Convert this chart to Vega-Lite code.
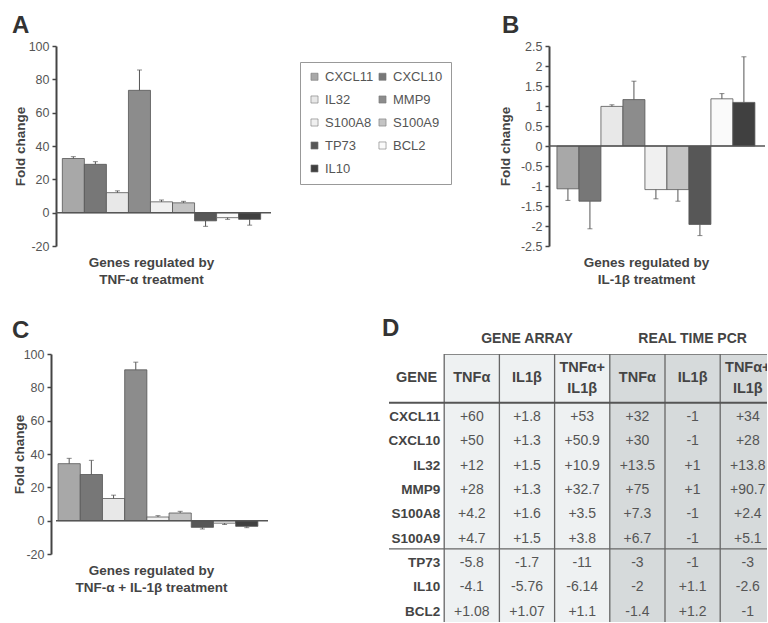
{
  "$schema": "https://vega.github.io/schema/vega-lite/v6.json",
  "padding": {"left": 12, "top": 14, "right": 0, "bottom": 0},
  "bounds": "full",
  "spacing": 31,
  "config": {
    "font": "Liberation Sans",
    "view": {"stroke": null},
    "axisX": {"labels": false, "ticks": false, "domain": false, "grid": false, "titleFontSize": 13.5, "titleFontWeight": "bold", "titleColor": "#444", "titlePadding": 9, "titleLineHeight": 17},
    "axisY": {"grid": false, "domainColor": "#444", "domainWidth": 2, "tickColor": "#444", "tickWidth": 1.5, "tickSize": 4, "labelFontSize": 12.5, "labelColor": "#555", "labelPadding": 3, "labelOverlap": false, "titleFontSize": 13.5, "titleFontWeight": "bold", "titleColor": "#444"},
    "title": {"font": "Liberation Sans", "fontSize": 24, "fontWeight": "bold", "color": "#333", "anchor": "start", "frame": "group", "baseline": "alphabetic"},
    "legend": {"orient": "none", "legendX": 244, "legendY": 16, "columns": 2, "direction": "horizontal", "symbolType": "square", "symbolSize": 50, "symbolStrokeColor": "#777", "symbolStrokeWidth": 0.6, "labelFontSize": 13, "labelFont": "Liberation Sans", "labelColor": "#555", "rowPadding": 9, "columnPadding": 2, "padding": 8, "strokeColor": "#999", "labelOffset": 4}
  },
  "datasets": {
    "barsA": [
      {"gene": "CXCL11", "value": 32.5, "err": 33.6},
      {"gene": "CXCL10", "value": 29.0, "err": 30.6},
      {"gene": "IL32", "value": 12.0, "err": 13.1},
      {"gene": "MMP9", "value": 73.4, "err": 85.6},
      {"gene": "S100A8", "value": 6.5, "err": 7.6},
      {"gene": "S100A9", "value": 5.9, "err": 6.8},
      {"gene": "TP73", "value": -4.9, "err": -8.2},
      {"gene": "BCL2", "value": -3.0, "err": -4.0},
      {"gene": "IL10", "value": -4.0, "err": -7.5}
    ],
    "barsB": [
      {"gene": "CXCL11", "value": -1.07, "err": -1.36},
      {"gene": "CXCL10", "value": -1.38, "err": -2.07},
      {"gene": "IL32", "value": 0.99, "err": 1.03},
      {"gene": "MMP9", "value": 1.16, "err": 1.62},
      {"gene": "S100A8", "value": -1.09, "err": -1.32},
      {"gene": "S100A9", "value": -1.09, "err": -1.38},
      {"gene": "TP73", "value": -1.96, "err": -2.24},
      {"gene": "BCL2", "value": 1.18, "err": 1.31},
      {"gene": "IL10", "value": 1.09, "err": 2.23}
    ],
    "barsC": [
      {"gene": "CXCL11", "value": 34.2, "err": 37.4},
      {"gene": "CXCL10", "value": 27.7, "err": 36.2},
      {"gene": "IL32", "value": 13.3, "err": 15.3},
      {"gene": "MMP9", "value": 90.5, "err": 95.1},
      {"gene": "S100A8", "value": 2.2, "err": 3.0},
      {"gene": "S100A9", "value": 4.6, "err": 5.6},
      {"gene": "TP73", "value": -4.0, "err": -5.0},
      {"gene": "BCL2", "value": -1.5, "err": -2.3},
      {"gene": "IL10", "value": -3.4, "err": -4.2}
    ],
    "zero": [{"z": 0}],
    "table": [
      {"gene": "CXCL11", "ga_tnf": "+60", "ga_il1": "+1.8", "ga_both": "+53", "pcr_tnf": "+32", "pcr_il1": "-1", "pcr_both": "+34"},
      {"gene": "CXCL10", "ga_tnf": "+50", "ga_il1": "+1.3", "ga_both": "+50.9", "pcr_tnf": "+30", "pcr_il1": "-1", "pcr_both": "+28"},
      {"gene": "IL32", "ga_tnf": "+12", "ga_il1": "+1.5", "ga_both": "+10.9", "pcr_tnf": "+13.5", "pcr_il1": "+1", "pcr_both": "+13.8"},
      {"gene": "MMP9", "ga_tnf": "+28", "ga_il1": "+1.3", "ga_both": "+32.7", "pcr_tnf": "+75", "pcr_il1": "+1", "pcr_both": "+90.7"},
      {"gene": "S100A8", "ga_tnf": "+4.2", "ga_il1": "+1.6", "ga_both": "+3.5", "pcr_tnf": "+7.3", "pcr_il1": "-1", "pcr_both": "+2.4"},
      {"gene": "S100A9", "ga_tnf": "+4.7", "ga_il1": "+1.5", "ga_both": "+3.8", "pcr_tnf": "+6.7", "pcr_il1": "-1", "pcr_both": "+5.1"},
      {"gene": "TP73", "ga_tnf": "-5.8", "ga_il1": "-1.7", "ga_both": "-11", "pcr_tnf": "-3", "pcr_il1": "-1", "pcr_both": "-3"},
      {"gene": "IL10", "ga_tnf": "-4.1", "ga_il1": "-5.76", "ga_both": "-6.14", "pcr_tnf": "-2", "pcr_il1": "+1.1", "pcr_both": "-2.6"},
      {"gene": "BCL2", "ga_tnf": "+1.08", "ga_il1": "+1.07", "ga_both": "+1.1", "pcr_tnf": "-1.4", "pcr_il1": "+1.2", "pcr_both": "-1"}
    ],
    "cols": [
      {"col": "ga_tnf", "grp": "array"},
      {"col": "ga_il1", "grp": "array"},
      {"col": "ga_both", "grp": "array"},
      {"col": "pcr_tnf", "grp": "pcr"},
      {"col": "pcr_il1", "grp": "pcr"},
      {"col": "pcr_both", "grp": "pcr"}
    ],
    "headers1": [
      {"col": "GENE", "t": "GENE"},
      {"col": "ga_tnf", "t": "TNFα"},
      {"col": "ga_il1", "t": "IL1β"},
      {"col": "pcr_tnf", "t": "TNFα"},
      {"col": "pcr_il1", "t": "IL1β"}
    ],
    "headers2": [
      {"col": "ga_both", "t": "TNFα+\nIL1β"},
      {"col": "pcr_both", "t": "TNFα+\nIL1β"}
    ],
    "groups": [
      {"col": "ga_il1", "t": "GENE ARRAY"},
      {"col": "pcr_il1", "t": "REAL TIME PCR"}
    ]
  },
  "vconcat": [
    {
      "bounds": "flush",
      "spacing": 278,
      "hconcat": [
        {
          "width": 215, "height": 200,
          "title": {"text": "A", "dx": -44, "offset": 2},
          "resolve": {"axis": {"x": "independent", "y": "independent"}},
          "layer": [
            {
              "data": {"name": "barsA"},
              "mark": {"type": "bar", "stroke": "#555", "strokeWidth": 0.8},
              "encoding": {
                "x": {"field": "gene", "type": "nominal", "scale": {"domain": ["CXCL11","CXCL10","IL32","MMP9","S100A8","S100A9","TP73","BCL2","IL10"], "paddingInner": 0, "paddingOuter": 0.378, "align": 0.38}, "title": ["Genes regulated by", "TNF-α treatment"], "axis": {"titleX": 95}},
                "y": {"field": "value", "type": "quantitative", "scale": {"domain": [-20, 100], "nice": false}, "axis": {"values": [-20,0,20,40,60,80,100], "titlePadding": 1, "labelOverlap": false, "labelExpr": "'' + datum.value"}, "title": "Fold change"},
                "color": {"field": "gene", "type": "nominal",
                  "scale": {"domain": ["CXCL11","CXCL10","IL32","MMP9","S100A8","S100A9","TP73","BCL2","IL10"], "range": ["#a8a8a8","#777777","#e8e8e8","#8c8c8c","#f0f0f0","#c4c4c4","#575757","#fafafa","#404040"]},
                  "legend": {"title": null}}
              }
            },
            {
              "data": {"name": "barsA"},
              "mark": {"type": "rule", "color": "#555", "strokeWidth": 1},
              "encoding": {
                "x": {"field": "gene", "type": "nominal", "axis": null},
                "y": {"field": "value", "type": "quantitative", "axis": null},
                "y2": {"field": "err"}
              }
            },
            {
              "data": {"name": "barsA"},
              "mark": {"type": "tick", "color": "#555", "size": 5, "thickness": 1},
              "encoding": {
                "x": {"field": "gene", "type": "nominal", "axis": null},
                "y": {"field": "err", "type": "quantitative", "axis": null}
              }
            },
            {
              "data": {"name": "zero"},
              "mark": {"type": "rule", "color": "#555", "strokeWidth": 1.5},
              "encoding": {"y": {"field": "z", "type": "quantitative", "axis": null}}
            }
          ]
        },
        {
          "width": 216, "height": 200,
          "title": {"text": "B", "dx": -47, "offset": 2},
          "resolve": {"axis": {"x": "independent", "y": "independent"}},
          "layer": [
            {
              "data": {"name": "barsB"},
              "mark": {"type": "bar", "stroke": "#555", "strokeWidth": 0.8},
              "encoding": {
                "x": {"field": "gene", "type": "nominal", "scale": {"domain": ["CXCL11","CXCL10","IL32","MMP9","S100A8","S100A9","TP73","BCL2","IL10"], "paddingInner": 0, "paddingOuter": 0.41, "align": 0.44}, "title": ["Genes regulated by", "IL-1β treatment"], "axis": {"titleX": 97}},
                "y": {"field": "value", "type": "quantitative", "scale": {"domain": [-2.5, 2.5], "nice": false}, "axis": {"values": [-2.5,-2,-1.5,-1,-0.5,0,0.5,1,1.5,2,2.5], "titlePadding": 8, "labelOverlap": false, "labelExpr": "'' + datum.value"}, "title": "Fold change"},
                "color": {"field": "gene", "type": "nominal", "legend": {"title": null}}
              }
            },
            {
              "data": {"name": "barsB"},
              "mark": {"type": "rule", "color": "#555", "strokeWidth": 1},
              "encoding": {
                "x": {"field": "gene", "type": "nominal", "axis": null},
                "y": {"field": "value", "type": "quantitative", "axis": null},
                "y2": {"field": "err"}
              }
            },
            {
              "data": {"name": "barsB"},
              "mark": {"type": "tick", "color": "#555", "size": 5, "thickness": 1},
              "encoding": {
                "x": {"field": "gene", "type": "nominal", "axis": null},
                "y": {"field": "err", "type": "quantitative", "axis": null}
              }
            },
            {
              "data": {"name": "zero"},
              "mark": {"type": "rule", "color": "#555", "strokeWidth": 1.5},
              "encoding": {"y": {"field": "z", "type": "quantitative", "axis": null}}
            }
          ]
        }
      ]
    },
    {
      "bounds": "flush",
      "spacing": 121,
      "hconcat": [
        {
          "width": 212, "height": 200,
          "title": {"text": "C", "dx": -44, "offset": 5},
          "resolve": {"axis": {"x": "independent", "y": "independent"}},
          "layer": [
            {
              "data": {"name": "barsC"},
              "mark": {"type": "bar", "stroke": "#555", "strokeWidth": 0.8},
              "encoding": {
                "x": {"field": "gene", "type": "nominal", "scale": {"domain": ["CXCL11","CXCL10","IL32","MMP9","S100A8","S100A9","TP73","BCL2","IL10"], "paddingInner": 0, "paddingOuter": 0.275, "align": 0.17}, "title": ["Genes regulated by", "TNF-α + IL-1β treatment"], "axis": {"titleX": 95}},
                "y": {"field": "value", "type": "quantitative", "scale": {"domain": [-20, 100], "nice": false}, "axis": {"values": [-20,0,20,40,60,80,100], "titlePadding": -3, "offset": 5, "labelOverlap": false, "labelExpr": "'' + datum.value"}, "title": "Fold change"},
                "color": {"field": "gene", "type": "nominal", "legend": {"title": null}}
              }
            },
            {
              "data": {"name": "barsC"},
              "mark": {"type": "rule", "color": "#555", "strokeWidth": 1},
              "encoding": {
                "x": {"field": "gene", "type": "nominal", "axis": null},
                "y": {"field": "value", "type": "quantitative", "axis": null},
                "y2": {"field": "err"}
              }
            },
            {
              "data": {"name": "barsC"},
              "mark": {"type": "tick", "color": "#555", "size": 5, "thickness": 1},
              "encoding": {
                "x": {"field": "gene", "type": "nominal", "axis": null},
                "y": {"field": "err", "type": "quantitative", "axis": null}
              }
            },
            {
              "data": {"name": "zero"},
              "mark": {"type": "rule", "color": "#555", "strokeWidth": 1.5},
              "encoding": {"y": {"field": "z", "type": "quantitative", "axis": null}}
            }
          ]
        },
        {
          "width": 378, "height": 268,
          "title": {"text": "D", "dx": -7, "offset": -9},
          "layer": [
            {
              "data": {"name": "cols"},
              "mark": {"type": "rect", "clip": true},
              "encoding": {
                "x": {"field": "col", "type": "nominal", "scale": {"domain": ["GENE","ga_tnf","ga_il1","ga_both","pcr_tnf","pcr_il1","pcr_both"], "range": [0, 386.4], "paddingInner": 0, "paddingOuter": 0}, "axis": null},
                "fill": {"condition": {"test": "datum.grp === 'pcr'", "value": "#d6dadb"}, "value": "#eef1f2"}
              }
            },
            {
              "data": {"name": "table"},
              "transform": [{"fold": ["ga_tnf","ga_il1","ga_both","pcr_tnf","pcr_il1","pcr_both"], "as": ["col", "v"]}],
              "mark": {"type": "text", "fontSize": 14, "color": "#555", "dy": 2, "clip": true},
              "encoding": {
                "x": {"field": "col", "type": "nominal", "axis": null},
                "y": {"field": "gene", "type": "nominal", "scale": {"domain": ["h1","h2","CXCL11","CXCL10","IL32","MMP9","S100A8","S100A9","TP73","IL10","BCL2"], "paddingInner": 0, "paddingOuter": 0}, "axis": null},
                "text": {"field": "v"}
              }
            },
            {
              "data": {"name": "table"},
              "mark": {"type": "text", "fontSize": 13.5, "fontWeight": "bold", "color": "#444", "align": "right", "dx": -4, "dy": 2},
              "encoding": {
                "x": {"datum": "GENE", "type": "nominal", "bandPosition": 1, "axis": null},
                "y": {"field": "gene", "type": "nominal", "axis": null},
                "text": {"field": "gene"}
              }
            },
            {
              "data": {"name": "headers1"},
              "mark": {"type": "text", "fontSize": 14.5, "fontWeight": "bold", "color": "#444", "clip": true},
              "encoding": {
                "x": {"field": "col", "type": "nominal", "axis": null},
                "y": {"datum": "h2", "type": "nominal", "bandPosition": 0, "axis": null},
                "text": {"field": "t"}
              }
            },
            {
              "data": {"name": "headers2"},
              "mark": {"type": "text", "fontSize": 14.5, "fontWeight": "bold", "color": "#444", "lineBreak": "\n", "lineHeight": 21, "dy": -10.5, "clip": true},
              "encoding": {
                "x": {"field": "col", "type": "nominal", "axis": null},
                "y": {"datum": "h2", "type": "nominal", "bandPosition": 0, "axis": null},
                "text": {"field": "t"}
              }
            },
            {
              "data": {"name": "groups"},
              "mark": {"type": "text", "fontSize": 14, "fontWeight": "bold", "color": "#444", "dy": -15},
              "encoding": {
                "x": {"field": "col", "type": "nominal", "axis": null},
                "y": {"datum": "h1", "type": "nominal", "bandPosition": 0, "axis": null},
                "text": {"field": "t"}
              }
            },
            {
              "data": {"name": "cols"},
              "mark": {"type": "rule", "color": "#666", "strokeWidth": 1.3},
              "encoding": {
                "x": {"field": "col", "type": "nominal", "bandPosition": 0, "axis": null}
              }
            },
            {
              "data": {"name": "zero"},
              "mark": {"type": "rule", "color": "#666", "strokeWidth": 1.3, "clip": true},
              "encoding": {
                "x": {"datum": "ga_tnf", "type": "nominal", "bandPosition": 0, "axis": null},
                "x2": {"datum": "pcr_both", "bandPosition": 1},
                "y": {"datum": "h1", "type": "nominal", "bandPosition": 0, "axis": null}
              }
            },
            {
              "data": {"name": "zero"},
              "mark": {"type": "rule", "color": "#555", "strokeWidth": 1.8},
              "encoding": {
                "y": {"datum": "CXCL11", "type": "nominal", "bandPosition": 0, "axis": null}
              }
            },
            {
              "data": {"name": "zero"},
              "mark": {"type": "rule", "color": "#666", "strokeWidth": 1.2},
              "encoding": {
                "y": {"datum": "TP73", "type": "nominal", "bandPosition": 0, "axis": null}
              }
            }
          ]
        }
      ]
    }
  ]
}
